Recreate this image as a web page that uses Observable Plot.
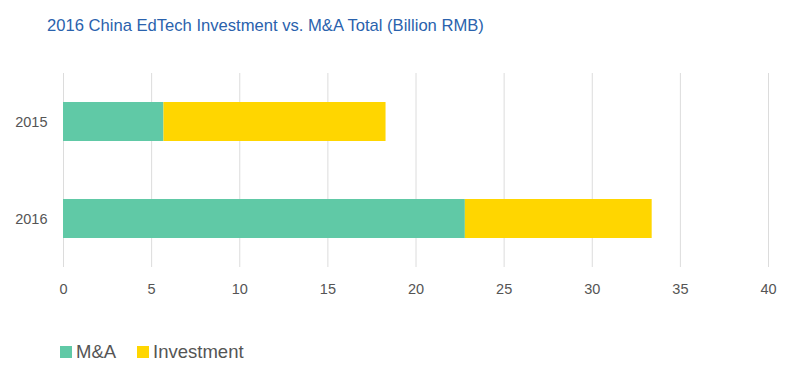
<!DOCTYPE html>
<html>
<head>
<meta charset="utf-8">
<script src="https://cdn.jsdelivr.net/npm/d3@7"></script>
<script src="https://cdn.jsdelivr.net/npm/@observablehq/plot@0.6"></script>
<style>
  body { margin: 0; background: #fff; font-family: "Liberation Sans", Arial, sans-serif; }
  #wrap { position: relative; width: 800px; height: 366px; overflow: hidden; }
  #title { position: absolute; left: 47px; top: 16px; font-size: 16.6px; color: #2a62ad; white-space: nowrap; }
  #chart { position: absolute; left: 0; top: 50px; }
  #legend { position: absolute; left: 60px; top: 341px; font-size: 18.5px; color: #555; display: flex; align-items: center; white-space: nowrap; }
  .item { display: flex; align-items: center; margin-right: 21px; }
  .sw { width: 12px; height: 12px; margin-right: 4px; display: inline-block; }
</style>
</head>
<body>
<div id="wrap">
  <div id="title">2016 China EdTech Investment vs. M&amp;A Total (Billion RMB)</div>
  <div id="chart"></div>
  <div id="legend"></div>
</div>
<script>
const years = ["2015", "2016"];
const series = ["M&A", "Investment"];
const colors = ["#60c9a6", "#ffd600"];
const maValues = [5.7, 22.8];
const investmentValues = [12.6, 10.6];
const xTicks = [0, 5, 10, 15, 20, 25, 30, 35, 40];

const data = years.flatMap((year, i) => [
  { year, series: "M&A", value: maValues[i] },
  { year, series: "Investment", value: investmentValues[i] }
]);

const chart = Plot.plot({
  width: 800,
  height: 260,
  marginLeft: 63,
  marginRight: 32,
  marginTop: 23,
  marginBottom: 43,
  style: { fontFamily: "'Liberation Sans', Arial, sans-serif", fontSize: "14.5px", color: "#555", background: "#fff" },
  x: { domain: [0, 40], ticks: xTicks, tickSize: 0, tickPadding: 16, label: null },
  y: { domain: years, paddingInner: 0.6, paddingOuter: 0.3, tickSize: 0, tickPadding: 16, label: null },
  color: { domain: series, range: colors },
  marks: [
    Plot.gridX(xTicks, { stroke: "#dcdcdc", strokeOpacity: 1 }),
    Plot.barX(data, { x: "value", y: "year", fill: "series" })
  ]
});
document.getElementById("chart").appendChild(chart);

const legend = document.getElementById("legend");
series.forEach((s, i) => {
  const item = document.createElement("span");
  item.className = "item";
  const sw = document.createElement("span");
  sw.className = "sw";
  sw.style.background = colors[i];
  const label = document.createElement("span");
  label.textContent = s;
  item.appendChild(sw);
  item.appendChild(label);
  legend.appendChild(item);
});
</script>
</body>
</html>
